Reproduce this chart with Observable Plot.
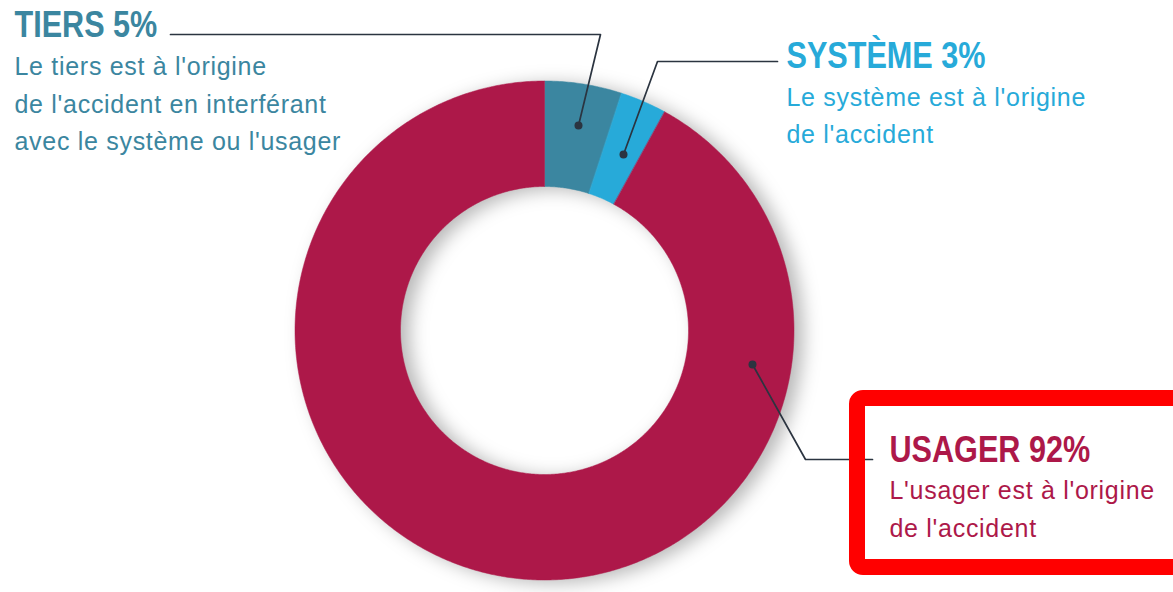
<!DOCTYPE html>
<html>
<head>
<meta charset="utf-8">
<script src="https://cdn.jsdelivr.net/npm/d3@7"></script>
<script src="https://cdn.jsdelivr.net/npm/@observablehq/plot@0.6"></script>
<style>
  html, body { margin: 0; padding: 0; background: #fff; }
  #chart { width: 1173px; height: 592px; overflow: hidden; }
</style>
</head>
<body>
<div id="chart"></div>
<script>
// ---- data ----
const categories = ["TIERS", "SYSTÈME", "USAGER"];
const shares = [5, 3, 92];
const titles = ["TIERS 5%", "SYSTÈME 3%", "USAGER 92%"];
const descriptions = [
  ["Le tiers est à l'origine", "de l'accident en interférant", "avec le système ou l'usager"],
  ["Le système est à l'origine", "de l'accident"],
  ["L'usager est à l'origine", "de l'accident"]
];
const colors = ["#3b86a0", "#27aad9", "#ad1849"];

// ---- layout (pixels) ----
const W = 1173, H = 592;
const cx = 544, cy = 330, R = 249.5, r0 = 144;
const labelPos = [
  {x: 14, y: 36, by: [74, 112, 149]},
  {x: 786, y: 67, by: [105, 142]},
  {x: 889, y: 461, by: [498, 536]}
];
const leaderPts = [
  [[170, 34], [600, 34], [578, 125]],
  [[777, 61], [657, 61], [623, 154]],
  [[872, 459], [805, 459], [752, 364]]
];
const leaderColor = "#2b3440";
const titleCondense = 0.85;

// ---- build ring polygons from shares ----
const total = d3.sum(shares);
const ring = [];
let cum = 0;
categories.forEach((cat, i) => {
  const a0 = cum / total * 2 * Math.PI;
  cum += shares[i];
  const a1 = cum / total * 2 * Math.PI;
  const n = Math.max(4, Math.ceil((a1 - a0) / (Math.PI / 360)));
  for (let k = 0; k <= n; k++) {
    const a = a0 + (a1 - a0) * k / n;
    ring.push({cat, x: cx + R * Math.sin(a), y: cy - R * Math.cos(a)});
  }
  for (let k = n; k >= 0; k--) {
    const a = a0 + (a1 - a0) * k / n;
    ring.push({cat, x: cx + r0 * Math.sin(a), y: cy - r0 * Math.cos(a)});
  }
});

const leaders = [];
leaderPts.forEach((pts, i) => pts.forEach(([x, y]) => leaders.push({cat: categories[i], x, y})));
const dots = leaderPts.map((pts, i) => ({cat: categories[i], x: pts[2][0], y: pts[2][1]}));

const titleRows = titles.map((t, i) => ({cat: categories[i], text: t, x: labelPos[i].x, y: labelPos[i].y}));
const bodyRows = [];
descriptions.forEach((lines, i) => lines.forEach((t, j) =>
  bodyRows.push({cat: categories[i], text: t, x: labelPos[i].x, y: labelPos[i].by[j]})));

const svg = Plot.plot({
  width: W,
  height: H,
  margin: 0,
  x: {domain: [0, W], range: [0, W], axis: null},
  y: {domain: [0, H], range: [0, H], axis: null},
  color: {domain: categories, range: colors},
  style: {background: "white"},
  marks: [
    Plot.line(ring, {x: "x", y: "y", z: "cat", fill: "cat", stroke: "cat", strokeWidth: 0.5, curve: "linear-closed"}),
    Plot.line(leaders, {x: "x", y: "y", z: "cat", stroke: leaderColor, strokeWidth: 1.7}),
    Plot.dot(dots, {x: "x", y: "y", r: 4, fill: leaderColor}),
    Plot.rect([{x1: 857, x2: 1200, y1: 398, y2: 567}], {x1: "x1", x2: "x2", y1: "y1", y2: "y2", fill: "none", stroke: "#ff0000", strokeWidth: 16, rx: 6}),
    Plot.text(titleRows, {x: "x", y: "y", text: "text", fill: "cat", textAnchor: "start", lineAnchor: "bottom",
      fontSize: 36, fontWeight: "bold", fontFamily: "'Liberation Sans', Arial, sans-serif"}),
    Plot.text(bodyRows, {x: "x", y: "y", text: "text", fill: "cat", textAnchor: "start", lineAnchor: "bottom",
      fontSize: 25, fontFamily: "'Liberation Sans', Arial, sans-serif"})
  ]
});

document.getElementById("chart").appendChild(svg);

// donut shadow, condensed titles, body letter spacing
const lineGroups = svg.querySelectorAll('g[aria-label="line"]');
if (lineGroups[0]) lineGroups[0].style.filter = "drop-shadow(9px 3px 9px rgba(0,0,0,0.28))";
const textGroups = svg.querySelectorAll('g[aria-label="text"]');
if (textGroups[0]) {
  textGroups[0].querySelectorAll("text").forEach(t => {
    const len = t.getComputedTextLength();
    t.setAttribute("textLength", (len * titleCondense).toFixed(1));
    t.setAttribute("lengthAdjust", "spacingAndGlyphs");
  });
}
if (textGroups[1]) textGroups[1].style.letterSpacing = "0.7px";
</script>
</body>
</html>
